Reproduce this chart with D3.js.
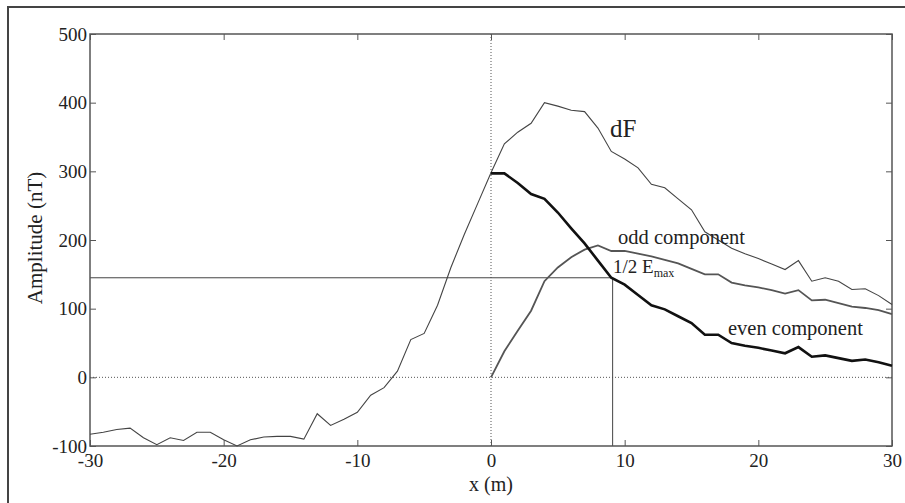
<!DOCTYPE html>
<html>
<head>
<meta charset="utf-8">
<script src="https://cdn.jsdelivr.net/npm/d3@7"></script>
<style>
  body { margin: 0; background: #fff; }
  svg { display: block; font-family: "Liberation Serif", "Times New Roman", serif; }
</style>
</head>
<body>
<script>
const svgW = 905;
const svgH = 503;

// data (x in m, amplitude in nT)
const xDF = d3.range(-30, 31);
const dF = [-83, -80, -76, -74, -88, -98, -88, -92, -80, -80,
            -91, -100, -91, -87, -86, -86, -90, -53, -70, -61,
            -51, -26, -15, 9, 55, 64, 105, 160, 208, 253,
            298, 340, 357, 370, 400, 395, 389, 387, 363, 329,
            318, 305, 281, 276, 260, 244, 212, 200, 188, 180,
            173, 165, 157, 170, 140, 145, 140, 128, 129, 119, 106];
const xComp = d3.range(0, 31);
const oddComp = [0, 38, 68, 97, 140, 160, 175, 186, 192, 184,
                 184, 180, 176, 171, 166, 158, 150, 150, 138, 134,
                 131, 127, 122, 127, 112, 113, 108, 103, 101, 98, 92];
const evenComp = [297, 297, 283, 267, 260, 240, 217, 195, 170, 145,
                  135, 120, 105, 99, 89, 79, 62, 62, 50, 46,
                  43, 39, 35, 44, 30, 32, 28, 24, 26, 22, 17];
const halfMax = 145;   // 1/2 E_max level
const xHalf = 9.1;     // where the even component crosses it

const xTicks = [-30, -20, -10, 0, 10, 20, 30];
const yTicks = [-100, 0, 100, 200, 300, 400, 500];

const margin = { top: 34, right: 13, bottom: 57, left: 90 };
const w = svgW - margin.left - margin.right;
const h = svgH - margin.top - margin.bottom;

const svg = d3.select('body').append('svg')
  .attr('width', svgW)
  .attr('height', svgH);

// outer frame (only left and top edges show)
svg.append('path')
  .attr('d', `M8,${svgH + 5}V7H${svgW + 5}`)
  .attr('fill', 'none')
  .attr('stroke', '#444')
  .attr('stroke-width', 2);

const g = svg.append('g')
  .attr('transform', `translate(${margin.left},${margin.top})`);

const x = d3.scaleLinear().domain([-30, 30]).range([0, w]);
const y = d3.scaleLinear().domain([-100, 500]).range([h, 0]);

const fmt = d => String(d);  // plain hyphen minus, as in the figure

// inward ticks on all four sides
const axisStyle = sel => {
  sel.select('.domain').remove();
  sel.selectAll('.tick line').attr('stroke', '#555').attr('stroke-width', 1);
  sel.selectAll('.tick text')
    .attr('font-family', '"Liberation Serif", serif')
    .attr('font-size', 19)
    .attr('fill', '#222');
};

g.append('g')
  .attr('transform', `translate(0,${h})`)
  .call(d3.axisBottom(x).tickValues(xTicks).tickSize(-6).tickPadding(8).tickFormat(fmt))
  .call(axisStyle);
g.append('g')
  .call(d3.axisTop(x).tickValues(xTicks).tickSize(-6).tickFormat(''))
  .call(axisStyle);
g.append('g')
  .call(d3.axisLeft(y).tickValues(yTicks).tickSize(-6).tickPadding(3).tickFormat(fmt))
  .call(axisStyle);
g.append('g')
  .attr('transform', `translate(${w},0)`)
  .call(d3.axisRight(y).tickValues(yTicks).tickSize(-6).tickFormat(''))
  .call(axisStyle);

// dotted zero lines
g.append('line')
  .attr('x1', x(0)).attr('x2', x(0)).attr('y1', 0).attr('y2', h)
  .attr('stroke', '#555').attr('stroke-width', 1).attr('stroke-dasharray', '1,2');
g.append('line')
  .attr('x1', 0).attr('x2', w).attr('y1', y(0)).attr('y2', y(0))
  .attr('stroke', '#555').attr('stroke-width', 1).attr('stroke-dasharray', '1,2');

// half-maximum guide
g.append('path')
  .attr('d', `M${x(-30)},${y(halfMax)}H${x(xHalf)}V${y(-100)}`)
  .attr('fill', 'none')
  .attr('stroke', '#444')
  .attr('stroke-width', 1);

// plot box
g.append('rect')
  .attr('width', w).attr('height', h)
  .attr('fill', 'none')
  .attr('stroke', '#555')
  .attr('stroke-width', 1.5);

const line = d3.line().x(d => x(d[0])).y(d => y(d[1]));

g.append('path')
  .datum(d3.zip(xDF, dF))
  .attr('d', line)
  .attr('fill', 'none').attr('stroke', '#444').attr('stroke-width', 1.1);
g.append('path')
  .datum(d3.zip(xComp, oddComp))
  .attr('d', line)
  .attr('fill', 'none').attr('stroke', '#555').attr('stroke-width', 1.8);
g.append('path')
  .datum(d3.zip(xComp, evenComp))
  .attr('d', line)
  .attr('fill', 'none').attr('stroke', '#111').attr('stroke-width', 2.6);

// labels
const txt = (px, py, s, size) => svg.append('text')
  .attr('x', px).attr('y', py)
  .attr('font-size', size)
  .attr('fill', '#222')
  .text(s);

txt(610, 137, 'dF', 25);
txt(618, 244, 'odd component', 20.5);
txt(728, 335, 'even component', 20.5);
const half = txt(613, 273, '1/2 E', 19);
half.append('tspan')
  .attr('font-size', 12)
  .attr('dy', 4)
  .text('max');

svg.append('text')
  .attr('x', 491).attr('y', 491)
  .attr('text-anchor', 'middle')
  .attr('font-size', 20)
  .attr('fill', '#222')
  .text('x (m)');

svg.append('text')
  .attr('transform', 'translate(42,238) rotate(-90)')
  .attr('text-anchor', 'middle')
  .attr('font-size', 21)
  .attr('fill', '#222')
  .text('Amplitude (nT)');
</script>
</body>
</html>
